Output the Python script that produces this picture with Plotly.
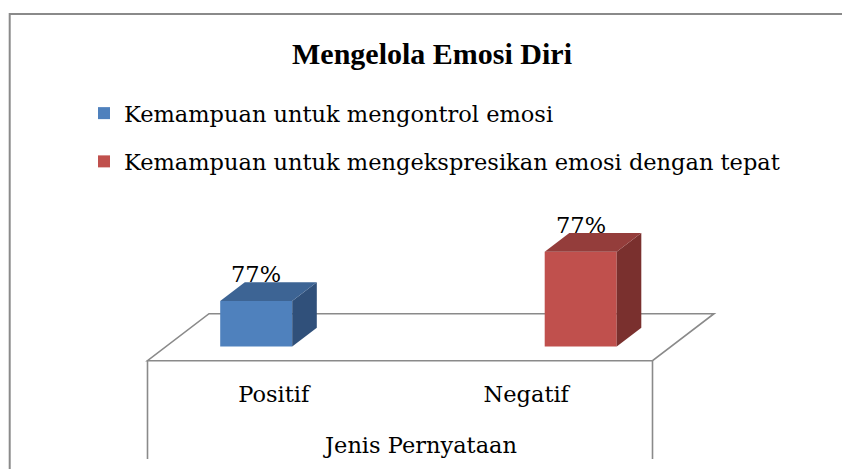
import plotly.graph_objects as go

# ---------------- data ----------------
chart_title = "Mengelola Emosi Diri"
axis_title = "Jenis Pernyataan"
categories = ["Positif", "Negatif"]
series_names = [
    "Kemampuan untuk mengontrol emosi",
    "Kemampuan untuk mengekspresikan emosi dengan tepat",
]
control_values = [37, None]
express_values = [None, 77]
control_labels = ["77%", None]
express_labels = [None, "77%"]

# ---------------- style ----------------
front_colors = ["#4F81BD", "#C0504D"]
top_colors = ["#3D6494", "#943D3B"]
side_colors = ["#30507A", "#7A302E"]
edge_color = "#8A8A8A"
body_font = "DejaVu Serif"
title_font = "Liberation Serif"
FS = 22.5

W, H = 842, 469
# oblique projection of the 3-D plot
X_PX = 252.5      # px per category
X0_PX = 273.75    # px of first category centre on floor front edge
Y_PX = 1.2325     # px per value unit
Y0_PX = 360.7     # px of floor front edge
DEPTH_PX = (61.5, 47.0)
DX = DEPTH_PX[0] / X_PX
DY = DEPTH_PX[1] / Y_PX
BAR_W = 72 / X_PX
D0, D1 = 0.3, 0.7
DROP = (459 - Y0_PX) / Y_PX

xrange = [-X0_PX / X_PX, (W - X0_PX) / X_PX]
yrange = [-(H - Y0_PX) / Y_PX, Y0_PX / Y_PX]

fig = go.Figure()

series_values = [control_values, express_values]
series_labels = [control_labels, express_labels]
annotations = []

for s, (vals, labs) in enumerate(zip(series_values, series_labels)):
    bx, by = [], []
    for c, (v, lab) in enumerate(zip(vals, labs)):
        if v is None:
            continue
        L = c - BAR_W + s * BAR_W
        R = L + BAR_W
        # side face
        fig.add_trace(go.Scatter(
            x=[R + D0 * DX, R + D1 * DX, R + D1 * DX, R + D0 * DX],
            y=[D0 * DY, D1 * DY, v + D1 * DY, v + D0 * DY],
            fill="toself", fillcolor=side_colors[s], mode="lines",
            line=dict(width=0, color=side_colors[s]), showlegend=False, hoverinfo="skip"))
        # top face
        fig.add_trace(go.Scatter(
            x=[L + D0 * DX, R + D0 * DX, R + D1 * DX, L + D1 * DX],
            y=[v + D0 * DY, v + D0 * DY, v + D1 * DY, v + D1 * DY],
            fill="toself", fillcolor=top_colors[s], mode="lines",
            line=dict(width=0, color=top_colors[s]), showlegend=False, hoverinfo="skip"))
        bx.append((L + R) / 2 + D0 * DX)
        by.append(v)
        if lab:
            annotations.append(dict(
                x=(L + R) / 2 + D0 * DX, y=v + D1 * DY, xref="x", yref="y",
                text=lab, showarrow=False, yanchor="bottom", yshift=-7,
                font=dict(family=body_font, size=FS, color="black")))
    fig.add_trace(go.Bar(
        x=bx, y=by, base=[D0 * DY] * len(by), width=BAR_W,
        marker=dict(color=front_colors[s], line=dict(width=0)),
        name=series_names[s], legendgroup=str(s), hoverinfo="skip"))

shapes = [
    # floor
    dict(type="path", xref="x", yref="y", layer="below",
         path=f"M {-0.5},0 L {1.5},0 L {1.5 + DX},{DY} L {-0.5 + DX},{DY} Z",
         fillcolor="white", line=dict(color=edge_color, width=1.6)),
    dict(type="line", xref="x", yref="y", layer="below",
         x0=-0.5, x1=-0.5, y0=0, y1=-DROP, line=dict(color=edge_color, width=1.6)),
    dict(type="line", xref="x", yref="y", layer="below",
         x0=1.5, x1=1.5, y0=0, y1=-DROP, line=dict(color=edge_color, width=1.6)),
    # chart frame
    dict(type="path", xref="paper", yref="paper",
         path=f"M {9.7 / W},-0.05 L {9.7 / W},{1 - 14 / H} L 1.05,{1 - 14 / H}",
         line=dict(color=edge_color, width=2)),
]

annotations.append(dict(
    x=431.5 / W, y=1 - 53.5 / H, xref="paper", yref="paper",
    text=f"<b>{chart_title}</b>", showarrow=False, xanchor="center", yanchor="middle",
    font=dict(family=title_font, size=30, color="black")))

fig.update_layout(
    width=W, height=H,
    margin=dict(l=0, r=0, t=0, b=0),
    paper_bgcolor="white", plot_bgcolor="white",
    barmode="overlay",
    shapes=shapes, annotations=annotations,
    showlegend=True,
    legend=dict(x=84 / W, xanchor="left", y=1 - 92 / H, yanchor="top",
                font=dict(family=body_font, size=FS, color="black"),
                tracegroupgap=16, bgcolor="rgba(0,0,0,0)"),
    xaxis=dict(range=xrange, domain=[0, 1], anchor="free", position=1 - 378 / H,
               tickmode="array", tickvals=list(range(len(categories))), ticktext=categories,
               showgrid=False, zeroline=False, showline=False, ticks="",
               tickfont=dict(family=body_font, size=FS, color="black"),
               title=dict(text=axis_title, standoff=31,
                          font=dict(family=body_font, size=FS, color="black")),
               automargin=False, fixedrange=True),
    yaxis=dict(range=yrange, domain=[0, 1], visible=False, fixedrange=True),
)

fig.write_html("out.html", config={"displayModeBar": False},
               post_script="document.body.style.margin='0';document.body.style.overflow='hidden';")
